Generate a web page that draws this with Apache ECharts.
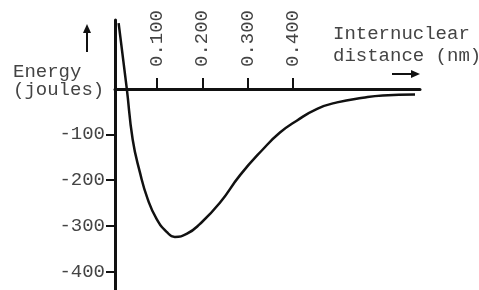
<!DOCTYPE html>
<html>
<head>
<meta charset="utf-8">
<script src="https://cdn.jsdelivr.net/npm/echarts@6/dist/echarts.min.js"></script>
<style>
  html, body { margin: 0; padding: 0; background: #fff; }
  #chart { width: 479px; height: 290px; }
</style>
</head>
<body>
<div id="chart"></div>
<script>
// internuclear distance (nm) vs energy (joules)
const distance = [0.015, 0.033, 0.046, 0.062, 0.079, 0.099, 0.121, 0.139, 0.166, 0.194, 0.238, 0.283, 0.333, 0.371, 0.408, 0.453, 0.497, 0.554, 0.598, 0.669]
const energy = [143, 0, -111, -183, -241, -285, -313, -324, -317, -296, -250, -189, -133, -96, -70, -44, -30, -20, -15, -13]
const xTicks = [0.1, 0.2, 0.3, 0.4]
const yTicks = [-100, -200, -300, -400]

const FONT = "'Liberation Mono', 'DejaVu Sans Mono', monospace"
const INK = '#111'
const TXT = '#444'

const chart = echarts.init(document.getElementById('chart'))

const option = {
  animation: false,
  grid: { left: 115, right: 59, top: 20, bottom: 0, outerBoundsMode: 'none', containLabel: false },
  xAxis: {
    type: 'value',
    position: 'top',
    // axis sits on the zero line, 150/590 of the 270px plot height below the top
    offset: -69,
    min: 0.007,
    max: 0.68,
    axisLine: { onZero: false, lineStyle: { color: INK, width: 3 } },
    axisTick: { length: 11, customValues: xTicks, lineStyle: { color: INK, width: 2 } },
    axisLabel: {
      rotate: -90,
      margin: 22,
      customValues: xTicks,
      formatter: (v) => v.toFixed(3),
      fontFamily: FONT,
      fontSize: 19,
      color: TXT
    },
    splitLine: { show: false }
  },
  yAxis: {
    type: 'value',
    min: -440,
    max: 150,
    axisLine: { onZero: false, lineStyle: { color: INK, width: 3 } },
    axisTick: { length: 9, customValues: yTicks, lineStyle: { color: INK, width: 2 } },
    axisLabel: {
      margin: 10,
      customValues: yTicks,
      fontFamily: FONT,
      fontSize: 19,
      color: TXT
    },
    splitLine: { show: false }
  },
  series: [
    {
      type: 'line',
      data: distance.map((d, i) => [d, energy[i]]),
      smooth: 0.5,
      symbol: 'none',
      lineStyle: { color: INK, width: 2.5 }
    }
  ],
  graphic: [
    // y axis caption + up arrow
    { type: 'text', left: 13, top: 62, style: { text: 'Energy\n(joules)', font: `19px ${FONT}`, fill: TXT, lineHeight: 18 } },
    { type: 'line', shape: { x1: 87, y1: 52, x2: 87, y2: 30 }, style: { stroke: INK, lineWidth: 2 } },
    { type: 'polygon', shape: { points: [[83, 33], [91, 33], [87, 24]] }, style: { fill: INK } },
    // x axis caption + right arrow
    { type: 'text', left: 333, top: 23, style: { text: 'Internuclear\ndistance (nm)', font: `19px ${FONT}`, fill: TXT, lineHeight: 22 } },
    { type: 'line', shape: { x1: 392, y1: 74, x2: 414, y2: 74 }, style: { stroke: INK, lineWidth: 2 } },
    { type: 'polygon', shape: { points: [[411, 70], [411, 78], [420, 74]] }, style: { fill: INK } }
  ]
}

chart.setOption(option)
</script>
</body>
</html>
